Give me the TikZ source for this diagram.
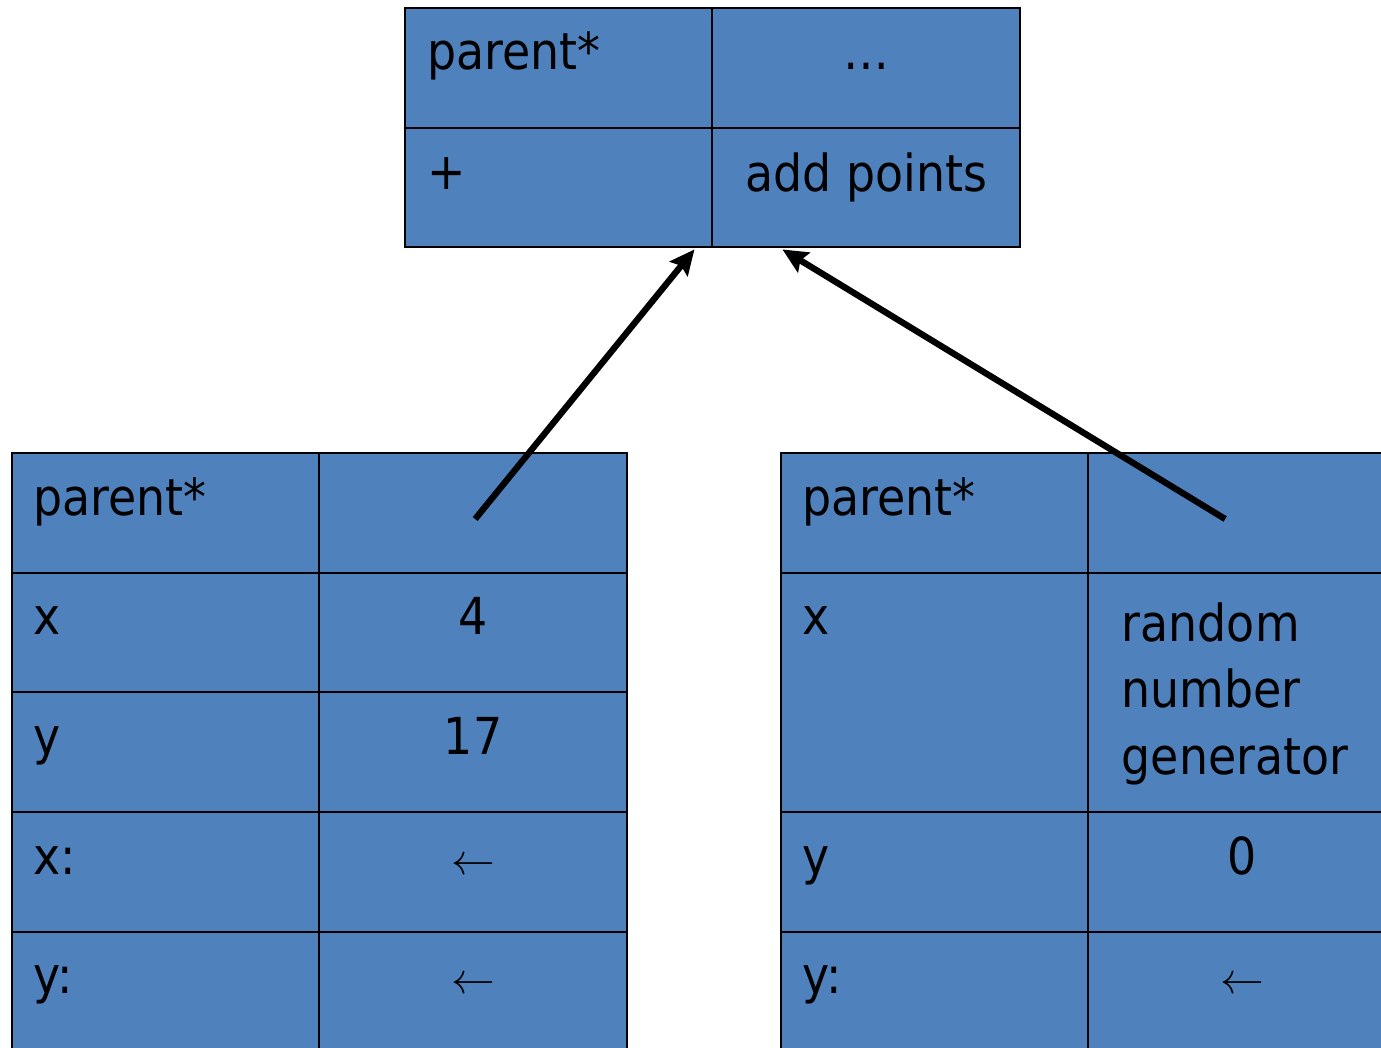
\documentclass[tikz,border=0pt]{standalone}
\usepackage{fontspec}
\setmainfont{DejaVu Sans}[FakeStretch=0.9]
\usetikzlibrary{arrows.meta, calc}
\definecolor{cellblue}{RGB}{79,129,189}

\begin{document}
\begin{tikzpicture}[
    x=0.02cm, y=-0.02cm,
    every node/.style={font=\fontsize{29}{38}\selectfont},
    cell/.style={rectangle, draw=black, line width=1.1pt, fill=cellblue, anchor=north west, minimum width=6.15cm, minimum height=2.395cm, inner sep=0pt, outer sep=0pt},
    tallcell/.style={cell, minimum height=4.79cm},
    key/.style={anchor=base west, inner sep=0pt},
    val/.style={anchor=base, inner sep=0pt},
    arrow/.style={-{Stealth[length=0.5cm, width=0.46cm, inset=0.08cm]}, line width=3.6pt}
]
\useasboundingbox (0,0) rectangle (1381,1047);
\clip (0,0) rectangle (1381,1047);

% Parent object
\node[cell] (protoK1) at (405,8) {};
\node[cell] (protoV1) at (protoK1.north east) {};
\node[cell] (protoK2) at (protoK1.south west) {};
\node[cell] (protoV2) at (protoK2.north east) {};

\node[key] (protoK1t) at ($(protoK1.north west)+(22,62)$) {parent*};
\node[val] (protoV1t) at ($(protoV1.north)+(0,62)$) {…};
\node[key] (protoK2t) at ($(protoK2.north west)+(22,62)$) {+};
\node[val] (protoV2t) at ($(protoV2.north)+(0,64)$) {add points};

% Left object
\node[cell] (objAK1) at (12,453) {};
\node[cell] (objAV1) at (objAK1.north east) {};
\node[cell] (objAK2) at (objAK1.south west) {};
\node[cell] (objAV2) at (objAK2.north east) {};
\node[cell] (objAK3) at (objAK2.south west) {};
\node[cell] (objAV3) at (objAK3.north east) {};
\node[cell] (objAK4) at (objAK3.south west) {};
\node[cell] (objAV4) at (objAK4.north east) {};
\node[cell] (objAK5) at (objAK4.south west) {};
\node[cell] (objAV5) at (objAK5.north east) {};

\node[key] (objAK1t) at ($(objAK1.north west)+(21,62)$) {parent*};
\node[key] (objAK2t) at ($(objAK2.north west)+(21,62)$) {x};
\node[val] (objAV2t) at ($(objAV2.north)+(0,62)$) {4};
\node[key] (objAK3t) at ($(objAK3.north west)+(21,62)$) {y};
\node[val] (objAV3t) at ($(objAV3.north)+(0,62)$) {17};
\node[key] (objAK4t) at ($(objAK4.north west)+(21,62)$) {x:};
\node[val] (objAV4t) at ($(objAV4.north)+(0,62)$) {$\leftarrow$};
\node[key] (objAK5t) at ($(objAK5.north west)+(21,62)$) {y:};
\node[val] (objAV5t) at ($(objAV5.north)+(0,62)$) {$\leftarrow$};

% Right object
\node[cell] (objBK1) at (781,453) {};
\node[cell] (objBV1) at (objBK1.north east) {};
\node[tallcell] (objBK2) at (objBK1.south west) {};
\node[tallcell] (objBV2) at (objBK2.north east) {};
\node[cell] (objBK3) at (objBK2.south west) {};
\node[cell] (objBV3) at (objBK3.north east) {};
\node[cell] (objBK4) at (objBK3.south west) {};
\node[cell] (objBV4) at (objBK4.north east) {};

\node[key] (objBK1t) at ($(objBK1.north west)+(21,62)$) {parent*};
\node[key] (objBK2t) at ($(objBK2.north west)+(21,62)$) {x};
\node[anchor=west, align=left, inner sep=0pt] (objBV2t) at ($(objBV2.north west)+(33,121)$) {random\\number\\generator};
\node[key] (objBK3t) at ($(objBK3.north west)+(21,62)$) {y};
\node[val] (objBV3t) at ($(objBV3.north)+(0,62)$) {0};
\node[key] (objBK4t) at ($(objBK4.north west)+(21,62)$) {y:};
\node[val] (objBV4t) at ($(objBV4.north)+(0,62)$) {$\leftarrow$};

% Parent pointers
\coordinate (fromA) at ($(objAV1.north)+(2,66)$);
\coordinate (toA) at ($(protoK2.south east)+(-18,2)$);
\coordinate (fromB) at ($(objBV1.north)+(-17,66)$);
\coordinate (toB) at ($(protoV2.south west)+(70,2)$);
\draw[arrow] (fromA) -- (toA);
\draw[arrow] (fromB) -- (toB);

\end{tikzpicture}
\end{document}
